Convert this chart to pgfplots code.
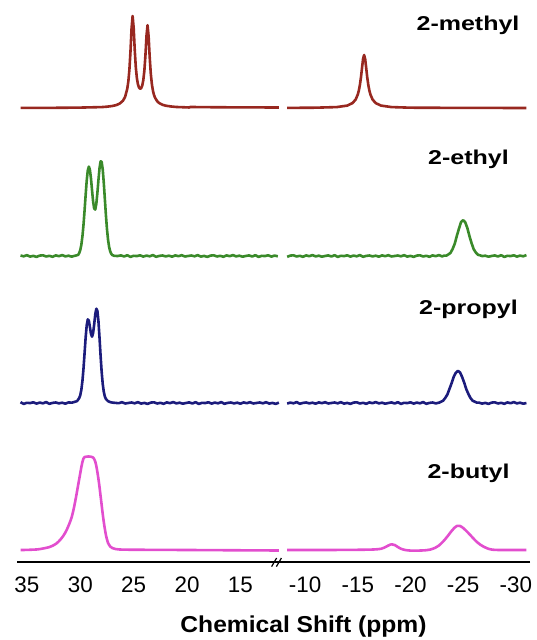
\documentclass[border=0pt]{standalone}
\usepackage{graphicx}
\usepackage{pgfplots}
\pgfplotsset{compat=1.18}
\usepackage{fontspec}
\setmainfont{Liberation Sans}
\definecolor{cmeth}{RGB}{152,40,32}
\definecolor{ceth}{RGB}{58,138,42}
\definecolor{cprop}{RGB}{28,28,124}
\definecolor{cbut}{RGB}{226,78,206}
\pgfplotsset{spec/.style={scale only axis, height=276pt, ymin=0, ymax=552, x dir=reverse,
  axis y line=none, axis x line*=bottom, axis line style={line width=0.7pt,-},
  major tick length=0pt,
  xticklabel style={anchor=base, yshift=-15.5pt, font=\fontsize{11.2pt}{13pt}\selectfont},
  clip=false, every axis plot/.append style={line width=1.3pt, line join=round}}}
\begin{document}
\begin{tikzpicture}
\useasboundingbox (0,0) rectangle (268pt,320pt);
% ---------------- left panel ----------------
\begin{axis}[spec, at={(8.5pt,39pt)}, anchor=south west, width=132pt,
  xmin=11.2, xmax=35.93, xtick={15,20,25,30,35}, xticklabels={15,20,25,30,35}]
% 2-methyl
\addplot[cmeth] coordinates {(35.6,454.1)(34.0,454.1)(32.0,454.2)(30.0,454.4)(28.0,454.9)(27.5,455.3)(27.0,456.0)(26.6,457.0)(26.3,458.5)(26.0,461.3)(25.8,465.2)(25.6,473.3)(25.5,480.6)(25.4,492.4)(25.3,510.5)(25.2,533.3)(25.1,546.0)(25.0,534.0)(24.9,511.9)(24.8,494.6)(24.7,483.8)(24.6,477.6)(24.5,474.4)(24.4,473.2)(24.3,473.8)(24.2,476.4)(24.1,481.7)(24.0,491.2)(23.9,506.5)(23.8,526.2)(23.7,536.8)(23.6,525.4)(23.5,504.9)(23.4,488.7)(23.3,478.2)(23.2,471.5)(23.1,467.2)(23.0,464.3)(22.8,460.8)(22.6,458.8)(22.3,457.2)(22.0,456.3)(21.5,455.5)(21.0,455.0)(20.0,454.6)(19.8,454.5)(19.7,455.0)(18.0,454.8)(15.0,454.6)(11.4,454.5)};
% 2-ethyl
\addplot[ceth] coordinates {(35.6,306.5)(35.3,305.7)(35.0,306.8)(34.7,305.4)(34.4,306.1)(34.1,305.1)(33.8,306.4)(33.5,306.7)(33.2,305.5)(32.9,306.2)(32.6,305.2)(32.3,306.6)(32.0,305.8)(31.7,306.9)(31.4,305.6)(31.1,306.3)(30.8,305.3)
(30.6,306.0)(30.4,306.5)(30.2,307.1)(30.1,309.0)(30.0,312.1)(29.9,317.4)(29.8,325.7)(29.7,337.2)(29.6,351.5)(29.5,367.0)(29.4,381.3)(29.3,391.4)(29.2,395.4)(29.1,392.2)(29.0,383.5)(28.9,371.6)(28.8,360.5)(28.7,353.4)(28.6,352.4)(28.5,358.1)(28.4,369.0)(28.3,382.1)(28.2,393.8)(28.1,400.6)(28.0,400.2)(27.9,392.6)(27.8,379.1)(27.7,362.9)(27.6,346.7)(27.5,332.7)(27.4,322.2)(27.3,315.0)(27.2,310.6)(27.1,308.2)(27.0,306.9)(26.8,306.1)
(26.5,306.0)(26.2,306.6)(25.9,305.5)(25.6,306.8)(25.3,305.1)(25.0,306.2)(24.7,305.9)(24.4,306.7)(24.1,305.4)(23.8,306.4)(23.5,305.7)(23.2,306.9)(22.9,305.2)(22.6,306.1)(22.3,306.5)(22.0,305.6)(21.7,306.3)(21.4,305.3)(21.1,306.6)(20.8,305.8)(20.5,306.8)(20.2,305.5)(19.9,306.0)(19.6,306.5)(19.3,305.7)(19.0,306.8)(18.7,305.4)(18.4,306.1)(18.1,305.1)(17.8,306.4)(17.5,306.7)(17.2,305.5)(16.9,306.2)(16.6,305.2)(16.3,306.6)(16.0,305.8)(15.7,306.9)(15.4,305.6)(15.1,306.3)(14.8,305.3)(14.5,306.0)(14.2,306.6)(13.9,305.5)(13.6,306.8)(13.3,305.1)(13.0,306.2)(12.7,305.9)(12.4,306.7)(12.1,305.4)(11.8,306.4)(11.5,305.7)};
% 2-propyl
\addplot[cprop] coordinates {(35.6,159.8)(35.3,158.1)(35.0,159.2)(34.7,158.9)(34.4,159.7)(34.1,158.4)(33.8,159.4)(33.5,158.7)(33.2,159.9)(32.9,158.2)(32.6,159.1)(32.3,159.5)(32.0,158.6)(31.7,159.3)(31.4,158.3)(31.1,159.6)
(30.8,159.3)(30.5,160.2)(30.3,160.9)(30.1,164.0)(30.0,166.9)(29.9,172.4)(29.8,181.1)(29.7,193.5)(29.6,208.8)(29.5,224.4)(29.4,236.7)(29.3,242.6)(29.2,241.3)(29.1,235.0)(29.0,228.2)(28.9,225.3)(28.8,228.9)(28.7,237.6)(28.6,247.5)(28.5,253.3)(28.4,251.3)(28.3,240.7)(28.2,224.3)(28.1,206.2)(28.0,190.2)(27.9,178.1)(27.8,170.2)(27.7,165.5)(27.6,163.0)(27.4,160.8)(27.2,159.9)(27.0,159.4)(26.7,159.1)
(26.4,158.8)(26.1,159.8)(25.8,158.5)(25.5,159.0)(25.2,159.5)(24.9,158.7)(24.6,159.8)(24.3,158.4)(24.0,159.1)(23.7,158.1)(23.4,159.4)(23.1,159.7)(22.8,158.5)(22.5,159.2)(22.2,158.2)(21.9,159.6)(21.6,158.8)(21.3,159.9)(21.0,158.6)(20.7,159.3)(20.4,158.3)(20.1,159.0)(19.8,159.6)(19.5,158.5)(19.2,159.8)(18.9,158.1)(18.6,159.2)(18.3,158.9)(18.0,159.7)(17.7,158.4)(17.4,159.4)(17.1,158.7)(16.8,159.9)(16.5,158.2)(16.2,159.1)(15.9,159.5)(15.6,158.6)(15.3,159.3)(15.0,158.3)(14.7,159.6)(14.4,158.8)(14.1,159.8)(13.8,158.5)(13.5,159.0)(13.2,159.5)(12.9,158.7)(12.6,159.8)(12.3,158.4)(12.0,159.1)(11.7,158.1)(11.4,159.4)};
% 2-butyl
\addplot[cbut, smooth, tension=0.4] coordinates {(35.6,12.0)(35.0,12.1)(34.0,12.6)(33.5,13.5)(33.0,14.6)(32.6,16.2)(32.2,18.8)(31.9,22)(31.6,26)(31.3,31.5)(31.0,39)(30.8,45)(30.6,54)(30.4,65)(30.2,77)(30.0,89)(29.9,95)(29.8,100)(29.7,103.5)(29.6,105)(29.4,105.4)(29.2,105.5)(29.0,105.3)(28.8,104.5)(28.7,103)(28.6,100.5)(28.5,96)(28.4,90)(28.3,83)(28.2,75)(28.1,66)(28.0,57)(27.9,48)(27.8,40)(27.7,33)(27.6,27)(27.5,22.5)(27.4,19)(27.2,15.5)(27.0,14)(26.7,13)(26.3,12.5)(25.5,12.3)(24.0,12.2)(20.0,12.0)(15.0,11.7)(11.4,11.5)};
\end{axis}
% ---------------- right panel ----------------
\begin{axis}[spec, at={(142pt,39pt)}, anchor=south west, width=123pt,
  xmin=-31.34, xmax=-8.0, xtick={-10,-15,-20,-25,-30}, xticklabels={-10,-15,-20,-25,-30}]
% 2-methyl
\addplot[cmeth] coordinates {(-8.3,454.1)(-11.0,454.3)(-13.0,454.9)(-14.0,456.4)(-14.5,458.9)(-14.8,462.5)(-15.0,467.5)(-15.1,471.4)(-15.2,477.0)(-15.3,484.5)(-15.4,493.9)(-15.5,503.0)(-15.6,507.0)(-15.7,503.0)(-15.8,493.9)(-15.9,484.5)(-16.0,477.0)(-16.1,471.4)(-16.2,467.5)(-16.4,462.5)(-16.7,458.9)(-17.2,456.4)(-18.2,454.9)(-20.0,454.3)(-25.0,454.1)(-31.0,454.0)};
% 2-ethyl
\addplot[ceth] coordinates {(-8.3,305.1)(-8.6,306.4)(-8.9,306.7)(-9.2,305.5)(-9.5,306.2)(-9.8,305.2)(-10.1,306.6)(-10.4,305.8)(-10.7,306.9)(-11.0,305.6)(-11.3,306.3)(-11.6,305.3)(-11.9,306.0)(-12.2,306.6)(-12.5,305.5)(-12.8,306.8)(-13.1,305.1)(-13.4,306.2)(-13.7,305.9)(-14.0,306.7)(-14.3,305.4)(-14.6,306.4)(-14.9,305.7)(-15.2,306.9)(-15.5,305.2)(-15.8,306.1)(-16.1,306.5)(-16.4,305.6)(-16.7,306.3)(-17.0,305.3)(-17.3,306.6)(-17.6,305.8)(-17.9,306.8)(-18.2,305.5)(-18.5,306.0)(-18.8,306.5)(-19.1,305.7)(-19.4,306.8)(-19.7,305.4)(-20.0,306.1)(-20.3,305.1)(-20.6,306.4)(-20.9,306.7)(-21.2,305.5)(-21.5,306.2)(-21.8,305.2)(-22.1,306.6)(-22.4,305.8)(-22.7,306.9)(-23.0,305.6)
(-23.2,306.4)(-23.4,306.3)(-23.6,307.6)(-23.8,309.1)(-24.0,313.1)(-24.2,318.3)(-24.4,326.2)(-24.6,333.4)(-24.8,340.0)(-25.0,341.8)(-25.2,339.6)(-25.4,333.8)(-25.6,325.7)(-25.8,318.7)(-26.0,312.7)(-26.2,309.5)(-26.4,307.2)(-26.6,306.7)(-26.8,305.9)
(-27.1,306.3)(-27.4,305.3)(-27.7,306.0)(-28.0,306.6)(-28.3,305.5)(-28.6,306.8)(-28.9,305.1)(-29.2,306.2)(-29.5,305.9)(-29.8,306.7)(-30.1,305.4)(-30.4,306.4)(-30.7,305.7)(-31.0,306.9)};
% 2-propyl
\addplot[cprop] coordinates {(-8.3,158.4)(-8.6,159.4)(-8.9,158.7)(-9.2,159.9)(-9.5,158.2)(-9.8,159.1)(-10.1,159.5)(-10.4,158.6)(-10.7,159.3)(-11.0,158.3)(-11.3,159.6)(-11.6,158.8)(-11.9,159.8)(-12.2,158.5)(-12.5,159.0)(-12.8,159.5)(-13.1,158.7)(-13.4,159.8)(-13.7,158.4)(-14.0,159.1)(-14.3,158.1)(-14.6,159.4)(-14.9,159.7)(-15.2,158.5)(-15.5,159.2)(-15.8,158.2)(-16.1,159.6)(-16.4,158.8)(-16.7,159.9)(-17.0,158.6)(-17.3,159.3)(-17.6,158.3)(-17.9,159.0)(-18.2,159.6)(-18.5,158.5)(-18.8,159.8)(-19.1,158.1)(-19.4,159.2)(-19.7,158.9)(-20.0,159.7)(-20.3,158.4)(-20.6,159.4)(-20.9,158.7)(-21.2,159.9)(-21.5,158.2)(-21.8,159.1)(-22.1,159.5)(-22.4,158.6)
(-22.7,159.3)(-22.9,160.3)(-23.1,161.3)(-23.3,164.1)(-23.5,167.5)(-23.7,173.1)(-23.9,178.8)(-24.1,185.2)(-24.3,189.2)(-24.5,191.1)(-24.7,189.6)(-24.9,185.0)(-25.1,179.2)(-25.3,172.7)(-25.5,167.9)(-25.7,163.8)(-25.9,161.3)(-26.1,160.3)(-26.3,159.3)(-26.5,159.4)
(-26.8,158.4)(-27.1,159.1)(-27.4,158.1)(-27.7,159.4)(-28.0,159.7)(-28.3,158.5)(-28.6,159.2)(-28.9,158.2)(-29.2,159.6)(-29.5,158.8)(-29.8,159.9)(-30.1,158.6)(-30.4,159.3)(-30.7,158.3)(-31.0,159.0)};
% 2-butyl
\addplot[cbut, smooth, tension=0.4] coordinates {(-8.3,12.0)(-12.0,12.0)(-15.0,12.2)(-16.5,12.5)(-17.2,13.2)(-17.6,14.8)(-17.9,16.5)(-18.2,17.7)(-18.5,17.0)(-18.8,15.0)(-19.1,13.2)(-19.5,12.0)(-20.0,11.4)(-20.7,11.4)(-21.4,11.7)(-21.9,12.5)(-22.3,14)(-22.7,16.5)(-23.1,20.5)(-23.5,25.5)(-23.9,31)(-24.2,34.5)(-24.4,36)(-24.7,36)(-25.0,34)(-25.4,30)(-25.8,25.5)(-26.2,21)(-26.6,17.5)(-27.0,15)(-27.4,13.2)(-27.8,12.3)(-28.5,12.0)(-31.0,12.0)};
\end{axis}
% axis break
\draw[line width=0.7pt] (140pt,39pt) -- (143pt,39pt);
\draw[line width=0.6pt] (135.8pt,36.7pt) -- (138.3pt,41pt);
\draw[line width=0.6pt] (138.2pt,36.7pt) -- (140.7pt,41pt);
% labels
\node[anchor=base, inner sep=0pt] at (234pt,304.65pt) {\scalebox{1.25}[1]{\fontsize{10pt}{12pt}\selectfont\bfseries 2-methyl}};
\node[anchor=base, inner sep=0pt] at (234.25pt,237.5pt) {\scalebox{1.25}[1]{\fontsize{10pt}{12pt}\selectfont\bfseries 2-ethyl}};
\node[anchor=base, inner sep=0pt] at (234.25pt,162.5pt) {\scalebox{1.25}[1]{\fontsize{10pt}{12pt}\selectfont\bfseries 2-propyl}};
\node[anchor=base, inner sep=0pt] at (234.25pt,80.5pt) {\scalebox{1.25}[1]{\fontsize{10pt}{12pt}\selectfont\bfseries 2-butyl}};
\node[anchor=base, inner sep=0pt] at (151.75pt,3.5pt) {\scalebox{1.07}[1]{\fontsize{11.5pt}{14pt}\selectfont\bfseries Chemical Shift (ppm)}};
\end{tikzpicture}
\end{document}
